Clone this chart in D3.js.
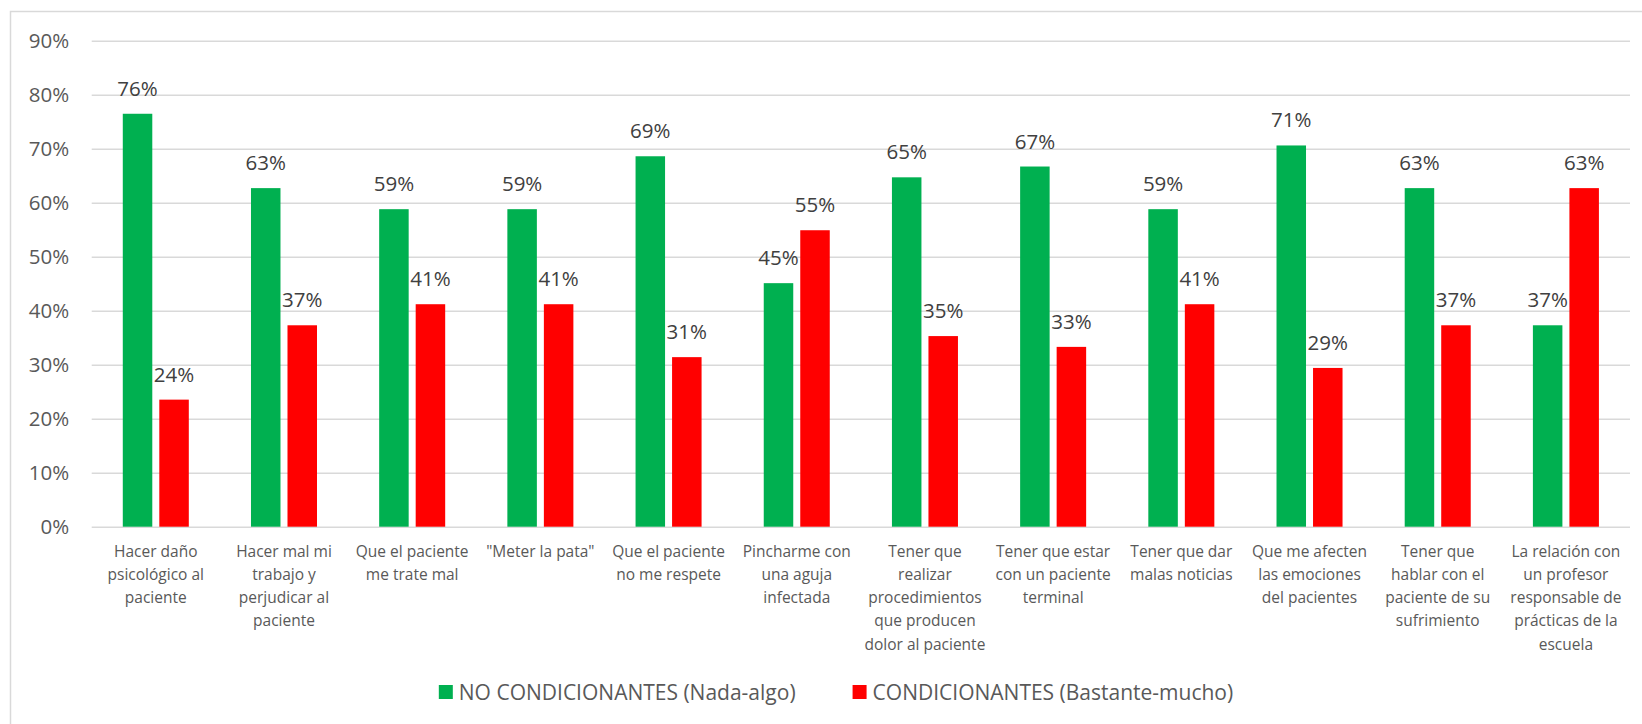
<!DOCTYPE html>
<html>
<head>
<meta charset="utf-8">
<script src="https://cdn.jsdelivr.net/npm/d3@7"></script>
<style>
  html, body { margin: 0; padding: 0; background: #fff; }
  svg { display: block; }
</style>
</head>
<body>
<svg id="chart" width="1642" height="724"></svg>
<script>
'use strict';

// Categories and the way their tick labels wrap in the original
var categories = [
    'Hacer daño psicológico al paciente',
    'Hacer mal mi trabajo y perjudicar al paciente',
    'Que el paciente me trate mal',
    '"Meter la pata"',
    'Que el paciente no me respete',
    'Pincharme con una aguja infectada',
    'Tener que realizar procedimientos que producen dolor al paciente',
    'Tener que estar con un paciente terminal',
    'Tener que dar malas noticias',
    'Que me afecten las emociones del pacientes',
    'Tener que hablar con el paciente de su sufrimiento',
    'La relación con un profesor responsable de prácticas de la escuela'
];

var tickLabelLines = [
    ['Hacer daño', 'psicológico al', 'paciente'],
    ['Hacer mal mi', 'trabajo y', 'perjudicar al', 'paciente'],
    ['Que el paciente', 'me trate mal'],
    ['"Meter la pata"'],
    ['Que el paciente', 'no me respete'],
    ['Pincharme con', 'una aguja', 'infectada'],
    ['Tener que', 'realizar', 'procedimientos', 'que producen', 'dolor al paciente'],
    ['Tener que estar', 'con un paciente', 'terminal'],
    ['Tener que dar', 'malas noticias'],
    ['Que me afecten', 'las emociones', 'del pacientes'],
    ['Tener que', 'hablar con el', 'paciente de su', 'sufrimiento'],
    ['La relación con', 'un profesor', 'responsable de', 'prácticas de la', 'escuela']
];

// Series (percent)
var seriesNames = ['NO CONDICIONANTES (Nada-algo)', 'CONDICIONANTES (Bastante-mucho)'];
var noCondicionantes = [76.47, 62.7, 58.8, 58.8, 68.6, 45.1, 64.7, 66.7, 58.8, 70.6, 62.7, 37.3];
var condicionantes   = [23.53, 37.3, 41.2, 41.2, 31.4, 54.9, 35.3, 33.3, 41.2, 29.4, 37.3, 62.7];

// Y axis ticks
var yTicks = [0, 10, 20, 30, 40, 50, 60, 70, 80, 90];


// Layout and style
var WIDTH = 1642,
    HEIGHT = 724,
    LEFT = 91.7,
    RIGHT = 1630,
    TOP = 40.7,
    BOTTOM = 526.7,
    FONT = '"Open Sans", "Noto Sans", sans-serif',
    COLORS = ['#00b050', '#ff0000'],
    TEXT = '#595959',
    GRID = '#d9d9d9';


function drawChart() {
    var svg = d3.select('#chart');

    var series = [noCondicionantes, condicionantes];

    // Chart area border (only top and left show in the picture)
    svg.append('rect')
        .attr('x', 10.5)
        .attr('y', 11.5)
        .attr('width', WIDTH + 40)
        .attr('height', HEIGHT + 40)
        .attr('fill', '#fff')
        .attr('stroke', GRID)
        .attr('stroke-width', 1.5);

    var y = d3.scaleLinear()
        .domain([0, 90])
        .range([BOTTOM, TOP]);

    var x0 = d3.scaleBand()
        .domain(categories)
        .range([LEFT, RIGHT])
        .paddingInner(0.485)
        .paddingOuter(0.2425);

    var x1 = d3.scaleBand()
        .domain(d3.range(series.length))
        .range([0, x0.bandwidth()])
        .paddingInner(0.192);

    // Gridlines
    var grid = svg.append('g')
        .attr('transform', 'translate(' + LEFT + ',0)')
        .call(d3.axisLeft(y).tickValues(yTicks).tickSize(-(RIGHT - LEFT)).tickFormat(''));
    grid.select('.domain').remove();
    grid.selectAll('line')
        .attr('stroke', GRID)
        .attr('stroke-width', 1.5);

    // Y tick labels
    var yAxis = svg.append('g')
        .attr('transform', 'translate(' + LEFT + ',0)')
        .call(d3.axisLeft(y).tickValues(yTicks).tickSize(0).tickPadding(22.5)
            .tickFormat(function (d) { return d + '%'; }));
    yAxis.select('.domain').remove();
    yAxis.selectAll('text')
        .attr('fill', TEXT)
        .style('font-family', FONT)
        .style('font-size', '20.5px');

    // Bars
    var groups = svg.append('g')
        .selectAll('g')
        .data(categories)
        .join('g')
        .attr('transform', function (d) { return 'translate(' + x0(d) + ',0)'; });

    groups.selectAll('rect')
        .data(function (d, i) {
            return series.map(function (s, k) { return {k: k, v: s[i]}; });
        })
        .join('rect')
        .attr('x', function (d) { return x1(d.k); })
        .attr('y', function (d) { return y(d.v); })
        .attr('width', x1.bandwidth())
        .attr('height', function (d) { return y(0) - y(d.v); })
        .attr('fill', function (d) { return COLORS[d.k]; });

    // Data labels
    groups.selectAll('text')
        .data(function (d, i) {
            return series.map(function (s, k) { return {k: k, v: s[i]}; });
        })
        .join('text')
        .attr('x', function (d) { return x1(d.k) + x1.bandwidth() / 2; })
        .attr('y', function (d) { return y(d.v) - 18; })
        .attr('text-anchor', 'middle')
        .attr('fill', '#404040')
        .style('font-family', FONT)
        .style('font-size', '20.5px')
        .text(function (d) { return Math.round(d.v) + '%'; });

    // Category labels
    svg.append('g')
        .selectAll('text')
        .data(categories)
        .join('text')
        .attr('x', function (d) { return x0(d) + x0.bandwidth() / 2; })
        .attr('y', 556.5)
        .attr('text-anchor', 'middle')
        .attr('fill', TEXT)
        .style('font-family', FONT)
        .style('font-size', '15.5px')
        .each(function (d, i) {
            var t = d3.select(this);
            tickLabelLines[i].forEach(function (line, j) {
                t.append('tspan')
                    .attr('x', x0(d) + x0.bandwidth() / 2)
                    .attr('dy', j === 0 ? 0 : 23.3)
                    .text(line);
            });
        });

    // Legend, centred under the chart
    var legend = svg.append('g');
    var offset = 0;
    seriesNames.forEach(function (name, k) {
        var item = legend.append('g')
            .attr('transform', 'translate(' + offset + ',0)');
        item.append('rect')
            .attr('x', 0)
            .attr('y', -7)
            .attr('width', 14)
            .attr('height', 14)
            .attr('fill', COLORS[k]);
        var label = item.append('text')
            .attr('x', 20)
            .attr('y', 7.5)
            .attr('fill', TEXT)
            .style('font-family', FONT)
            .style('font-size', '21px')
            .text(name);
        offset += 20 + label.node().getComputedTextLength() + 57;
    });
    var legendWidth = offset - 57;
    legend.attr('transform', 'translate(' + (836 - legendWidth / 2) + ',692)');
}

drawChart();
</script>
</body>
</html>
